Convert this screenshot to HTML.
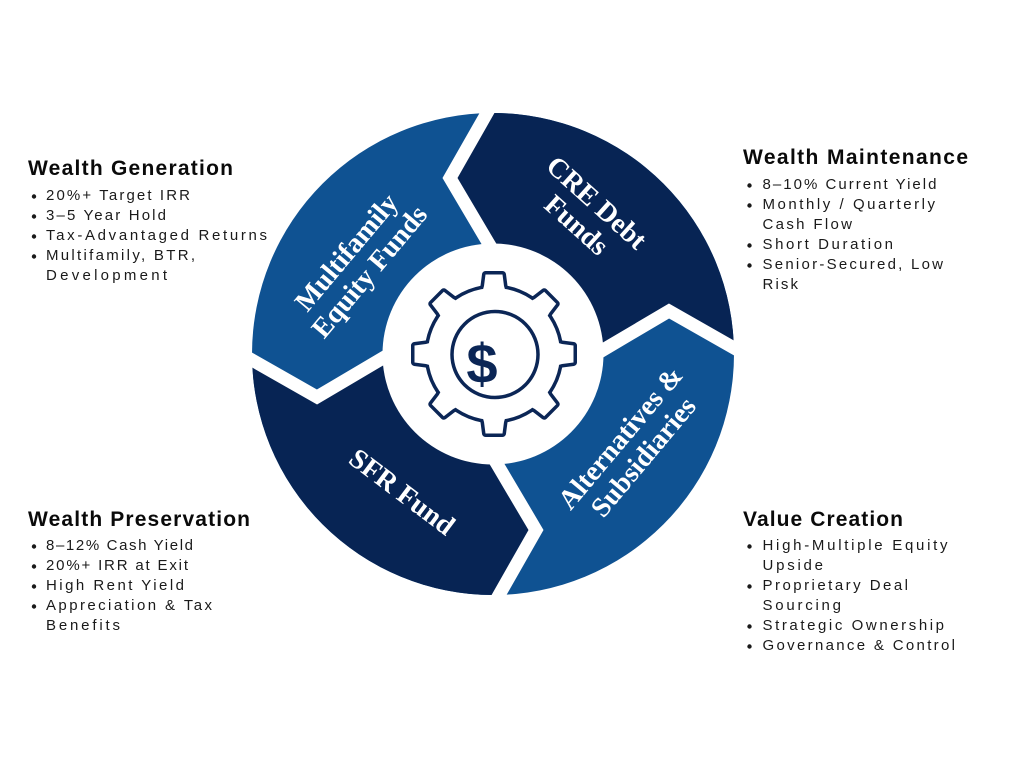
<!DOCTYPE html>
<html>
<head>
<meta charset="utf-8">
<style>
  html, body { margin:0; padding:0; background:#ffffff; }
  body { width:1024px; height:768px; overflow:hidden; }
  svg { display:block; }
  .h { font-family:"Liberation Sans", Arial, sans-serif; font-weight:bold; font-size:21px; fill:#0a0a0a; }
  .b { font-family:"Liberation Sans", Arial, sans-serif; font-size:15px; fill:#1a1a1a; }
  .s { font-family:"Liberation Serif", "Times New Roman", serif; font-weight:bold; font-size:28px; fill:#ffffff; }
</style>
</head>
<body>
<svg width="1024" height="768" viewBox="0 0 1024 768" xmlns="http://www.w3.org/2000/svg">
  <defs>
    <clipPath id="ring">
      <circle cx="493" cy="354" r="241"/>
    </clipPath>
  </defs>

  <!-- Ring -->
  <g clip-path="url(#ring)">
    <rect x="0" y="0" width="1024" height="768" fill="#0f5292"/>
    <polygon fill="#072454" points="493,354 489,244 450,178 487,113 505,81 793,54 766,366 734,348 669,311 603,350"/>
    <polygon fill="#072454" points="493,354 497,464 536,530 499,595 481,627 193,654 220,342 252,360 317,397 383,358"/>
  </g>

  <!-- Gaps -->
  <g fill="none" stroke="#ffffff" stroke-width="13" stroke-linejoin="miter" stroke-miterlimit="6">
    <polyline points="505,81 487,113 450,178 489,244 495,254"/>
    <polyline points="766,366 734,348 669,311 603,350 593,356"/>
    <polyline points="481,627 499,595 536,530 497,464 491,454"/>
    <polyline points="220,342 252,360 317,397 383,358 393,352"/>
  </g>

  <!-- Inner white circle -->
  <circle cx="493" cy="354" r="110.5" fill="#ffffff"/>

  <!-- Gear: navy outline layer -->
  <g fill="#0b2656" stroke="#0b2656" stroke-width="7" stroke-linejoin="round">
    <circle cx="494" cy="354" r="66"/>
    <polygon points="480,300 484,286 485.5,274.5 502.5,274.5 504,286 508,300" transform="rotate(0 494 354)"/>
    <polygon points="480,300 484,286 485.5,274.5 502.5,274.5 504,286 508,300" transform="rotate(45 494 354)"/>
    <polygon points="480,300 484,286 485.5,274.5 502.5,274.5 504,286 508,300" transform="rotate(90 494 354)"/>
    <polygon points="480,300 484,286 485.5,274.5 502.5,274.5 504,286 508,300" transform="rotate(135 494 354)"/>
    <polygon points="480,300 484,286 485.5,274.5 502.5,274.5 504,286 508,300" transform="rotate(180 494 354)"/>
    <polygon points="480,300 484,286 485.5,274.5 502.5,274.5 504,286 508,300" transform="rotate(225 494 354)"/>
    <polygon points="480,300 484,286 485.5,274.5 502.5,274.5 504,286 508,300" transform="rotate(270 494 354)"/>
    <polygon points="480,300 484,286 485.5,274.5 502.5,274.5 504,286 508,300" transform="rotate(315 494 354)"/>
  </g>
  <!-- Gear: white fill layer -->
  <g fill="#ffffff" stroke="none">
    <circle cx="494" cy="354" r="66"/>
    <polygon points="480,300 484,286 485.5,274.5 502.5,274.5 504,286 508,300" transform="rotate(0 494 354)"/>
    <polygon points="480,300 484,286 485.5,274.5 502.5,274.5 504,286 508,300" transform="rotate(45 494 354)"/>
    <polygon points="480,300 484,286 485.5,274.5 502.5,274.5 504,286 508,300" transform="rotate(90 494 354)"/>
    <polygon points="480,300 484,286 485.5,274.5 502.5,274.5 504,286 508,300" transform="rotate(135 494 354)"/>
    <polygon points="480,300 484,286 485.5,274.5 502.5,274.5 504,286 508,300" transform="rotate(180 494 354)"/>
    <polygon points="480,300 484,286 485.5,274.5 502.5,274.5 504,286 508,300" transform="rotate(225 494 354)"/>
    <polygon points="480,300 484,286 485.5,274.5 502.5,274.5 504,286 508,300" transform="rotate(270 494 354)"/>
    <polygon points="480,300 484,286 485.5,274.5 502.5,274.5 504,286 508,300" transform="rotate(315 494 354)"/>
  </g>
  <!-- Inner coin circle -->
  <circle cx="495" cy="354.5" r="43" fill="none" stroke="#0b2656" stroke-width="3.5"/>
  <text x="482" y="383" text-anchor="middle" font-family="Liberation Sans, Arial, sans-serif" font-weight="bold" font-size="56" fill="#0b2656">$</text>

  <!-- Segment labels -->
  <g transform="translate(358,262) rotate(-50)">
    <text class="s" x="0" y="-6" text-anchor="middle">Multifamily</text>
    <text class="s" x="0" y="24" text-anchor="middle">Equity Funds</text>
  </g>
  <g transform="translate(586.5,214) rotate(42)">
    <text class="s" x="0" y="-6" text-anchor="middle">CRE Debt</text>
    <text class="s" x="0" y="24" text-anchor="middle">Funds</text>
  </g>
  <g transform="translate(632,447.5) rotate(-50)">
    <text class="s" x="0" y="-6" text-anchor="middle">Alternatives &amp;</text>
    <text class="s" x="0" y="24" text-anchor="middle">Subsidiaries</text>
  </g>
  <g transform="translate(402,492) rotate(37)">
    <text class="s" x="0" y="9" text-anchor="middle">SFR Fund</text>
  </g>

  <!-- Top-left block -->
  <text class="h" x="28" y="175" textLength="205" lengthAdjust="spacing">Wealth Generation</text>
  <g fill="#1a1a1a">
    <circle cx="34" cy="196.5" r="2.2"/>
    <circle cx="34" cy="216.5" r="2.2"/>
    <circle cx="34" cy="236.5" r="2.2"/>
    <circle cx="34" cy="256.5" r="2.2"/>
  </g>
  <text class="b" x="46" y="200" textLength="144" lengthAdjust="spacing">20%+ Target IRR</text>
  <text class="b" x="46" y="220" textLength="120" lengthAdjust="spacing">3–5 Year Hold</text>
  <text class="b" x="46" y="240" textLength="221" lengthAdjust="spacing">Tax-Advantaged Returns</text>
  <text class="b" x="46" y="260" textLength="149" lengthAdjust="spacing">Multifamily, BTR,</text>
  <text class="b" x="46" y="280" textLength="121" lengthAdjust="spacing">Development</text>

  <!-- Top-right block -->
  <text class="h" x="743" y="164" textLength="225" lengthAdjust="spacing">Wealth Maintenance</text>
  <g fill="#1a1a1a">
    <circle cx="749.5" cy="185.5" r="2.2"/>
    <circle cx="749.5" cy="205.5" r="2.2"/>
    <circle cx="749.5" cy="245.5" r="2.2"/>
    <circle cx="749.5" cy="265.5" r="2.2"/>
  </g>
  <text class="b" x="762.5" y="189" textLength="174" lengthAdjust="spacing">8–10% Current Yield</text>
  <text class="b" x="762.5" y="209" textLength="172.5" lengthAdjust="spacing">Monthly / Quarterly</text>
  <text class="b" x="762.5" y="229" textLength="89.5" lengthAdjust="spacing">Cash Flow</text>
  <text class="b" x="762.5" y="249" textLength="130.5" lengthAdjust="spacing">Short Duration</text>
  <text class="b" x="762.5" y="269" textLength="180.5" lengthAdjust="spacing">Senior-Secured, Low</text>
  <text class="b" x="762.5" y="289" textLength="35.5" lengthAdjust="spacing">Risk</text>

  <!-- Bottom-left block -->
  <text class="h" x="28" y="526" textLength="222" lengthAdjust="spacing">Wealth Preservation</text>
  <g fill="#1a1a1a">
    <circle cx="34" cy="546.5" r="2.2"/>
    <circle cx="34" cy="566.5" r="2.2"/>
    <circle cx="34" cy="586.5" r="2.2"/>
    <circle cx="34" cy="606.5" r="2.2"/>
  </g>
  <text class="b" x="46" y="550" textLength="147" lengthAdjust="spacing">8–12% Cash Yield</text>
  <text class="b" x="46" y="570" textLength="142" lengthAdjust="spacing">20%+ IRR at Exit</text>
  <text class="b" x="46" y="590" textLength="138" lengthAdjust="spacing">High Rent Yield</text>
  <text class="b" x="46" y="610" textLength="166" lengthAdjust="spacing">Appreciation &amp; Tax</text>
  <text class="b" x="46" y="630" textLength="74" lengthAdjust="spacing">Benefits</text>

  <!-- Bottom-right block -->
  <text class="h" x="743" y="526" textLength="160" lengthAdjust="spacing">Value Creation</text>
  <g fill="#1a1a1a">
    <circle cx="749.5" cy="546.5" r="2.2"/>
    <circle cx="749.5" cy="586.5" r="2.2"/>
    <circle cx="749.5" cy="626.5" r="2.2"/>
    <circle cx="749.5" cy="646.5" r="2.2"/>
  </g>
  <text class="b" x="762.5" y="550" textLength="185" lengthAdjust="spacing">High-Multiple Equity</text>
  <text class="b" x="762.5" y="570" textLength="60.5" lengthAdjust="spacing">Upside</text>
  <text class="b" x="762.5" y="590" textLength="145.5" lengthAdjust="spacing">Proprietary Deal</text>
  <text class="b" x="762.5" y="610" textLength="78.5" lengthAdjust="spacing">Sourcing</text>
  <text class="b" x="762.5" y="630" textLength="181.5" lengthAdjust="spacing">Strategic Ownership</text>
  <text class="b" x="762.5" y="650" textLength="192.5" lengthAdjust="spacing">Governance &amp; Control</text>
</svg>
</body>
</html>
